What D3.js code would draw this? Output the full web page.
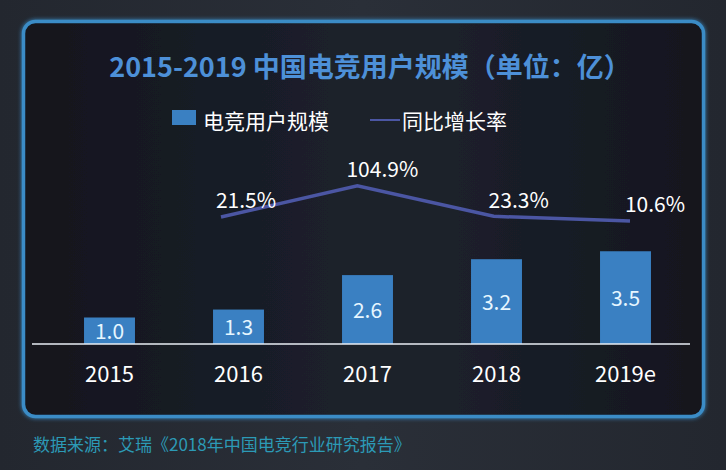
<!DOCTYPE html>
<html>
<head>
<meta charset="utf-8">
<script src="https://cdn.jsdelivr.net/npm/d3@7"></script>
<style>
  html, body { margin: 0; padding: 0; background: #262b33; }
  svg { display: block; font-family: "Noto Sans CJK SC", "Noto Sans", sans-serif; }
</style>
</head>
<body>
<div id="chart"></div>
<script>
// 数据
const years = ["2015", "2016", "2017", "2018", "2019e"];
const users = [1.0, 1.3, 2.6, 3.2, 3.5];
const growthYears = ["2016", "2017", "2018", "2019e"];
const growth = [21.5, 104.9, 23.3, 10.6];

const width = 726;
const height = 470;

const svg = d3.select("#chart")
    .append("svg")
    .attr("width", width)
    .attr("height", height);

const defs = svg.append("defs");

// 背景渐变
const bg = defs.append("linearGradient")
    .attr("id", "bgGrad")
    .attr("x1", "0%").attr("y1", "0%").attr("x2", "100%").attr("y2", "0%");
bg.append("stop").attr("offset", "0%").attr("stop-color", "#23272f");
bg.append("stop").attr("offset", "50%").attr("stop-color", "#2a2f38");
bg.append("stop").attr("offset", "100%").attr("stop-color", "#23272f");

const inner = defs.append("linearGradient")
    .attr("id", "innerGrad")
    .attr("x1", "0%").attr("y1", "0%").attr("x2", "100%").attr("y2", "0%");
inner.append("stop").attr("offset", "0%").attr("stop-color", "#12151d");
inner.append("stop").attr("offset", "45%").attr("stop-color", "#1b202b");
inner.append("stop").attr("offset", "60%").attr("stop-color", "#1c212c");
inner.append("stop").attr("offset", "100%").attr("stop-color", "#13161e");

const glow = defs.append("filter").attr("id", "glow")
    .attr("x", "-5%").attr("y", "-5%").attr("width", "110%").attr("height", "110%");
glow.append("feGaussianBlur").attr("stdDeviation", 2).attr("result", "b");
const merge = glow.append("feMerge");
merge.append("feMergeNode").attr("in", "b");
merge.append("feMergeNode").attr("in", "SourceGraphic");

svg.append("rect")
    .attr("width", width).attr("height", height)
    .attr("fill", "url(#bgGrad)");

// 边框
svg.append("rect")
    .attr("x", 23.5).attr("y", 21.5)
    .attr("width", 680).attr("height", 395)
    .attr("rx", 12)
    .attr("fill", "url(#innerGrad)")
    .attr("stroke", "#3b8cc6")
    .attr("stroke-width", 3.5)
    .attr("filter", "url(#glow)");

// 标题
svg.append("text")
    .attr("x", 370).attr("y", 77)
    .attr("text-anchor", "middle")
    .attr("fill", "#4d90d8")
    .attr("font-size", "27px")
    .attr("font-weight", "bold")
    .text("2015-2019 中国电竞用户规模（单位：亿）");

// 图例
const legend = svg.append("g");
legend.append("rect")
    .attr("x", 172).attr("y", 110)
    .attr("width", 24).attr("height", 15)
    .attr("fill", "#3a80c2");
legend.append("text")
    .attr("x", 203).attr("y", 129)
    .attr("fill", "#ffffff")
    .attr("font-size", "21px")
    .text("电竞用户规模");
legend.append("line")
    .attr("x1", 370).attr("x2", 400)
    .attr("y1", 120).attr("y2", 120)
    .attr("stroke", "#4b56a3")
    .attr("stroke-width", 2);
legend.append("text")
    .attr("x", 402).attr("y", 129)
    .attr("fill", "#ffffff")
    .attr("font-size", "21px")
    .text("同比增长率");

// 比例尺
const x = d3.scaleBand()
    .domain(years)
    .range([45, 690])
    .paddingInner(0.605)
    .paddingOuter(0.3025);

const y = d3.scaleLinear()
    .domain([0, 4])
    .range([344, 238]);

const xLine = d3.scalePoint()
    .domain(growthYears)
    .range([221, 630]);

const yLine = d3.scaleLinear()
    .domain([0, 110])
    .range([225, 184]);

// 柱子
svg.selectAll("rect.bar")
    .data(users)
    .enter()
    .append("rect")
    .attr("class", "bar")
    .attr("x", (d, i) => x(years[i]))
    .attr("y", d => y(d))
    .attr("width", x.bandwidth())
    .attr("height", d => y(0) - y(d))
    .attr("fill", "#3a80c2");

svg.selectAll("text.barLabel")
    .data(users)
    .enter()
    .append("text")
    .attr("class", "barLabel")
    .attr("x", (d, i) => x(years[i]) + x.bandwidth() / 2)
    .attr("y", d => (y(d) + y(0)) / 2 + 1)
    .attr("dy", "0.35em")
    .attr("text-anchor", "middle")
    .attr("fill", "#e6f6ff")
    .attr("font-size", "21px")
    .text(d => d.toFixed(1));

// X 轴
const xAxis = svg.append("g")
    .attr("transform", "translate(0,344)")
    .call(d3.axisBottom(x).tickSize(0).tickPadding(22));
xAxis.select(".domain").remove();
xAxis.selectAll("text")
    .attr("fill", "#ffffff")
    .attr("font-size", "22px")
    .attr("font-family", "'Noto Sans CJK SC', 'Noto Sans', sans-serif");

svg.append("line")
    .attr("x1", 32).attr("x2", 690)
    .attr("y1", 344).attr("y2", 344)
    .attr("stroke", "#e8eef5")
    .attr("stroke-width", 1.5);

// 增长率折线
const line = d3.line()
    .x((d, i) => xLine(growthYears[i]))
    .y(d => yLine(d));

svg.append("path")
    .datum(growth)
    .attr("d", line)
    .attr("fill", "none")
    .attr("stroke", "#4b56a3")
    .attr("stroke-width", 3.5);

svg.selectAll("text.rateLabel")
    .data(growth)
    .enter()
    .append("text")
    .attr("class", "rateLabel")
    .attr("x", (d, i) => xLine(growthYears[i]) + 25)
    .attr("y", d => yLine(d) - 16)
    .attr("dy", "0.35em")
    .attr("text-anchor", "middle")
    .attr("fill", "#ffffff")
    .attr("font-size", "21px")
    .text(d => d.toFixed(1) + "%");

// 数据来源
svg.append("text")
    .attr("x", 33).attr("y", 451)
    .attr("fill", "#2c9ab6")
    .attr("font-size", "17px")
    .text("数据来源：艾瑞《2018年中国电竞行业研究报告》");
</script>
</body>
</html>
